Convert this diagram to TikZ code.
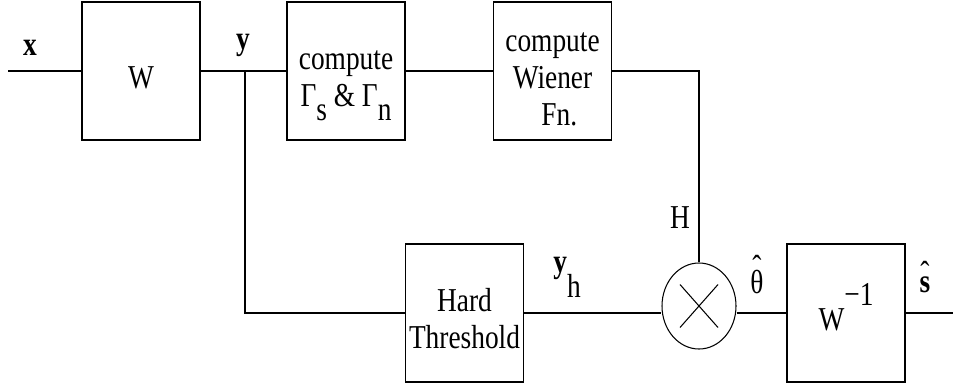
\documentclass[tikz,border=0pt]{standalone}
\usepackage{fontspec}
\setmainfont[FakeStretch=0.82]{Liberation Serif}
\usetikzlibrary{shapes.geometric}

\tikzset{
  blk/.style={draw, line width=0.6pt, minimum width=2.36cm, minimum height=2.76cm, inner sep=0pt, font=\fontsize{19}{21}\selectfont},
  mult/.style={draw, ellipse, line width=0.6pt, minimum width=1.48cm, minimum height=1.72cm, inner sep=0pt},
  lbl/.style={inner sep=0pt, font=\fontsize{19}{21}\selectfont},
  wire/.style={line width=0.6pt}
}
\newcommand{\hatted}[2]{\ooalign{#1\cr\hidewidth\raisebox{#2}{ˆ}\hidewidth\cr}}
\newcommand{\lowered}[1]{\raisebox{-0.2cm}[\height][\depth]{\begin{tabular}{@{}c@{}}#1\end{tabular}}}

\begin{document}
\begin{tikzpicture}
	\useasboundingbox (0,0) rectangle (19.06,-7.76);
	% blocks
	\node[blk] (W) at (2.82,-1.42) {\lowered{W}};
	\node[blk] (G) at (6.92,-1.42) {\lowered{compute\\Γ\raisebox{-8pt}[0pt][0pt]{s} \& Γ\raisebox{-8pt}[0pt][0pt]{n}}};
	\node[blk] (Wf) at (11.05,-1.42) {\lowered{compute\\Wiener\\\ \ Fn.}};
	\node[blk] (HT) at (9.29,-6.26) {\lowered{Hard\\Threshold}};
	\node[mult] (M) at (13.98,-6.12) {};
	\node[blk] (Wi) at (16.92,-6.26) {\lowered{W\raisebox{14pt}[0pt][0pt]{−1}}};
	\coordinate (in) at (0.16,-1.42);
	\coordinate (br) at (4.9,-1.42);
	\coordinate (out) at (19.06,-6.26);
	% wires
	\draw[wire] (in) -- (W.west);
	\draw[wire] (W.east) -- (G.west);
	\draw[wire] (G.east) -- (Wf.west);
	\draw[wire] (Wf.east) -| (M.north);
	\draw[wire] (br) |- (HT.west);
	\draw[wire] (HT.east) -- (HT.east -| M.west);
	\draw[wire] (Wi.west -| M.east) -- (Wi.west);
	\draw[wire] (Wi.east) -- (out);
	\draw[wire] ([shift={(-0.38,0.43)}]M.center) -- ([shift={(0.38,-0.43)}]M.center);
	\draw[wire] ([shift={(-0.38,-0.43)}]M.center) -- ([shift={(0.38,0.43)}]M.center);
	% labels
	\node[lbl] (lx) at (0.6,-0.96) {\textbf{x}};
	\node[lbl] (ly) at (4.86,-0.9) {\textbf{y}};
	\node[lbl] (lH) at (13.6,-4.36) {H};
	\node[lbl] (lth) at (15.14,-5.64) {\hatted{θ}{1ex}};
	\node[lbl] (ls) at (18.5,-5.7) {\hatted{\textbf{s}}{0.55ex}};
	\node[lbl] (lyh) at (11.34,-5.55) {\textbf{y}\raisebox{-14pt}{h}};
\end{tikzpicture}
\end{document}
